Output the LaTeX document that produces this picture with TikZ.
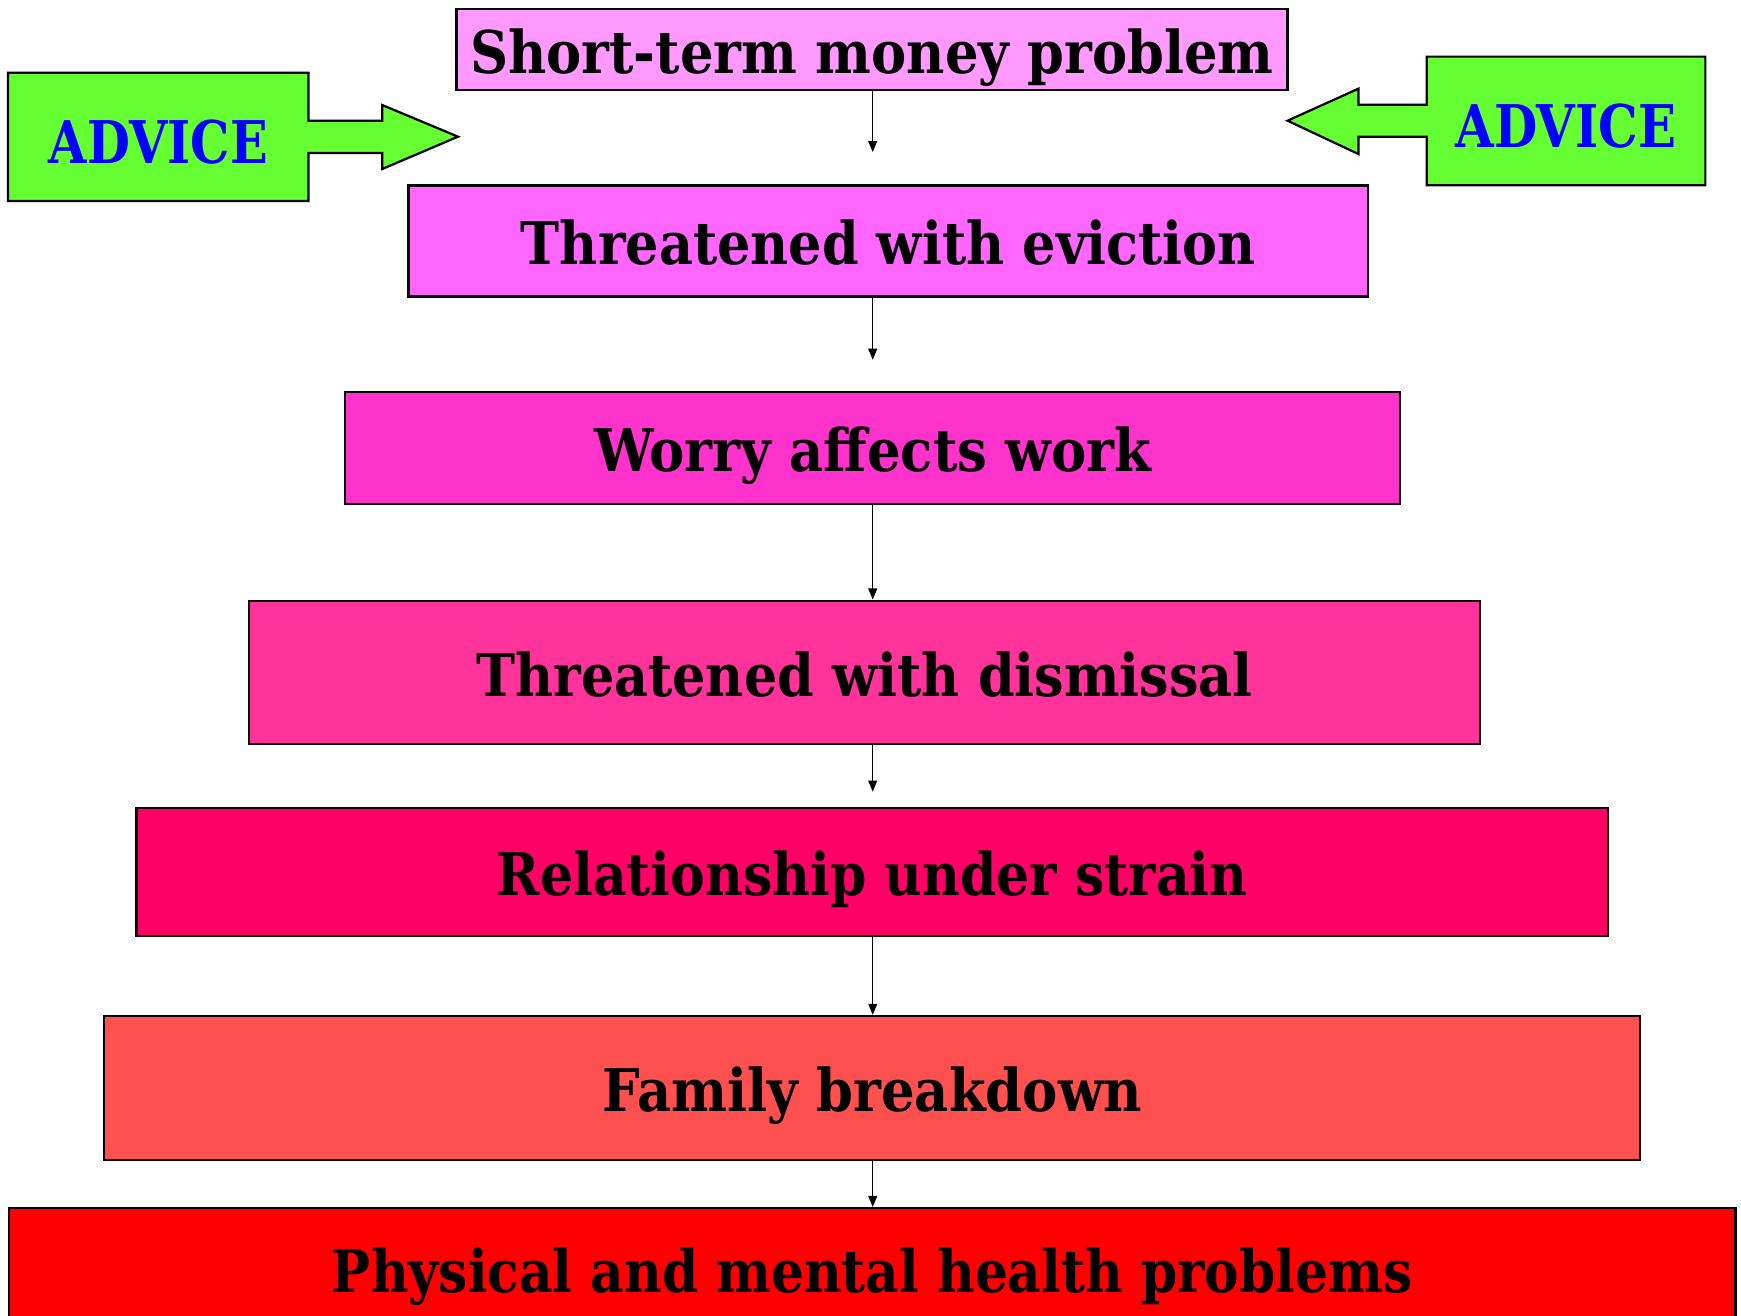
\documentclass[tikz,border=0pt]{standalone}
\usepackage{fontspec}
\setmainfont{DejaVu Serif}
\usetikzlibrary{arrows.meta}
\definecolor{cA}{HTML}{FF99FF}
\definecolor{cB}{HTML}{FF66FF}
\definecolor{cC}{HTML}{FF33CC}
\definecolor{cD}{HTML}{FF3399}
\definecolor{cE}{HTML}{FF0066}
\definecolor{cF}{HTML}{FF5050}
\definecolor{cG}{HTML}{FF0000}
\definecolor{advgreen}{HTML}{66FF33}
\definecolor{advblue}{HTML}{0000FF}
\newsavebox\fitbox
\newcommand\fitw[2]{\sbox\fitbox{#2}\pgfmathsetmacro\fitsx{#1/\the\wd\fitbox}\scalebox{\fitsx}[1]{\usebox\fitbox}}
\tikzset{
  x=1pt, y=-1pt,
  stagebox/.style={draw=black, line width=2pt, inner sep=0pt, text height=44pt, text depth=1.2pt,
    font=\bfseries\fontsize{53}{60}\selectfont},
  advshape/.style={draw=black, line width=2pt, fill=advgreen, line join=miter},
  advtext/.style={inner sep=0pt, text height=44pt, text depth=1.2pt, text=advblue,
    font=\bfseries\fontsize{53}{60}\selectfont},
  flow/.style={line width=1.3pt, -{Triangle[length=10pt,width=8pt]}}
}
\begin{document}
\begin{tikzpicture}
\useasboundingbox (0,0) rectangle (1568,1185.2);
\clip (0,0) rectangle (1568,1185.2);
% stage boxes
\node[stagebox, fill=cA, minimum width=748.4pt, minimum height=72.6pt] (b1) at (785.3,44.7) {\fitw{723.6}{Short-term money problem}};
\node[stagebox, fill=cB, minimum width=864pt, minimum height=100pt] (b2) at (800,217) {\fitw{661.7}{Threatened with eviction}};
\node[stagebox, fill=cC, minimum width=950pt, minimum height=101pt] (b3) at (786,403.5) {\fitw{502}{Worry affects work}};
\node[stagebox, fill=cD, minimum width=1109pt, minimum height=129pt] (b4) at (778.5,605.5) {\fitw{699.2}{Threatened with dismissal}};
\node[stagebox, fill=cE, minimum width=1325pt, minimum height=115pt] (b5) at (785.5,785.5) {\fitw{676}{Relationship under strain}};
\node[stagebox, fill=cF, minimum width=1383pt, minimum height=130pt] (b6) at (785.5,980) {\fitw{486}{Family breakdown}};
\node[stagebox, fill=cG, minimum width=1555pt, minimum height=110pt] (b7) at (785.5,1143) {\fitw{973}{Physical and mental health problems}};
% arrow end points in the air
\coordinate (e1) at (786,137);
\coordinate (e2) at (786,324);
\coordinate (e4) at (786,713);
\draw[flow] (b1.south -| e1) -- (e1);
\draw[flow] (b2.south -| e2) -- (e2);
\draw[flow] (b3.south -| e2) -- (b4.north -| e2);
\draw[flow] (b4.south -| e4) -- (e4);
\draw[flow] (b5.south -| e4) -- (b6.north -| e4);
\draw[flow] (b6.south -| e4) -- (b7.north -| e4);
% ADVICE arrows
\draw[advshape] (7.2,65.5) -- (277.8,65.5) -- (277.8,108.7) -- (344.3,108.7) -- (344.3,94.6)
  -- (412.5,123.1) -- (344.3,152.2) -- (344.3,137.8) -- (277.8,137.8) -- (277.8,181) -- (7.2,181) -- cycle;
\node[advtext] (advL) at (142.5,126.2) {\fitw{197.2}{ADVICE}};
\draw[advshape] (1535.9,51) -- (1285,51) -- (1285,94.3) -- (1223.4,94.3) -- (1223.4,79.9)
  -- (1159.6,108.7) -- (1223.4,138.7) -- (1223.4,123.1) -- (1285,123.1) -- (1285,166.9) -- (1535.9,166.9) -- cycle;
\node[advtext] (advR) at (1410.5,111.8) {\fitw{198.8}{ADVICE}};
\end{tikzpicture}
\end{document}
